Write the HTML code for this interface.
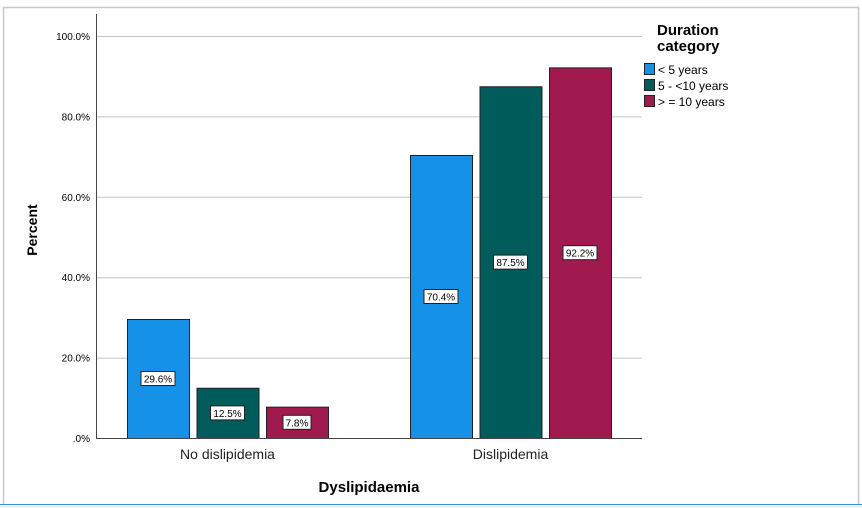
<!DOCTYPE html>
<html><head><meta charset="utf-8"><style>
html,body{margin:0;padding:0;background:#fff;}
svg{display:block;font-family:"Liberation Sans",Arial,sans-serif;}
</style></head><body>
<svg id="chart" width="862" height="508">
<rect x="0" y="0" width="862" height="508" fill="#fff"/>
<rect x="3.5" y="7.5" width="855" height="498" fill="none" stroke="#c8c8c8" stroke-width="1.5"/>
<rect x="0" y="505" width="862" height="3" fill="#eef0f2"/>
<line x1="0" y1="504.5" x2="862" y2="504.5" stroke="#3a8ee6" stroke-width="1"/>
<g id="grid"></g>
<g id="bars"></g>
<line x1="96.5" y1="14" x2="96.5" y2="438" stroke="#444"/>
<line x1="96" y1="438.5" x2="642" y2="438.5" stroke="#444"/>
<g id="labels"></g>
<text x="37" y="230" font-size="14" font-weight="bold" text-anchor="middle" transform="rotate(-90 37 230)">Percent</text>
<text x="369" y="492" font-size="15" font-weight="bold" text-anchor="middle">Dyslipidaemia</text>
<g>
<text x="657" y="35" font-size="15" font-weight="bold">Duration</text>
<text x="657" y="51" font-size="15" font-weight="bold">category</text>
<g id="legend"></g>
</g>
</svg>
<script>
const categories = ["No dislipidemia", "Dislipidemia"];
const seriesNames = ["< 5 years", "5 - <10 years", "> = 10 years"];
const seriesColors = ["#1591e8", "#005b5b", "#a01a50"];
const series0 = [29.6, 70.4];
const series1 = [12.5, 87.5];
const series2 = [7.8, 92.2];
const yTicks = [0, 20, 40, 60, 80, 100];
const yTickLabels = [".0%", "20.0%", "40.0%", "60.0%", "80.0%", "100.0%"];
const allSeries = [series0, series1, series2];
const NS = "http://www.w3.org/2000/svg";
function y(v){ return 438 - v * 4.02; }
const groupStart = [127, 410], barW = 62, barStep = 69.5;
function x(ci, si){ return groupStart[ci] + si * barStep; }
function mk(tag, attrs, parent, text){
  const e = document.createElementNS(NS, tag);
  for (const k in attrs) e.setAttribute(k, attrs[k]);
  if (text !== undefined) e.textContent = text;
  parent.appendChild(e); return e;
}
const grid = document.getElementById("grid"), bars = document.getElementById("bars"), labels = document.getElementById("labels"), legend = document.getElementById("legend");
yTicks.forEach((t, i) => {
  if (t > 0) {
    const l = mk("line", {x1: 96, x2: 642, y1: y(t) + 0.5, y2: y(t) + 0.5, stroke: "#c4c4c4"}, grid);
    
    
  }
  const tx = mk("text", {x: 90, y: y(t) + 4, "font-size": 10, "text-anchor": "end"}, labels, yTickLabels[i]);
  
  
});
categories.forEach((c, ci) => {
  const ct = mk("text", {x: x(ci, 1) + barW / 2, y: 459, "font-size": 14, "text-anchor": "middle", fill: "#222"}, labels, c);
  
  
  allSeries.forEach((s, si) => {
    const v = s[ci];
    const r = mk("rect", {x: x(ci, si) + 0.5, y: y(v) + 0.5, width: barW, height: 438 - y(v), fill: seriesColors[si], stroke: "#222", "stroke-width": 1}, bars);
    
    
    const cx = x(ci, si) + barW / 2, cy = y(v / 2);
    const lbl = v.toFixed(1) + "%";
    const w = lbl.length * 6 + 4;
    const b = mk("rect", {x: cx - w / 2, y: cy - 7, width: w, height: 14, fill: "#fff", stroke: "#222", "stroke-width": 1}, bars);
    
    
    const t = mk("text", {x: cx, y: cy + 4, "font-size": 10, "text-anchor": "middle"}, bars, lbl);
    
    
  });
});
seriesNames.forEach((n, i) => {
  const yy = 63 + i * 16;
  const r = mk("rect", {x: 644.5, y: yy + 0.5, width: 10, height: 11, fill: seriesColors[i], stroke: "#222"}, legend);
  
  
  const t = mk("text", {x: 658, y: yy + 11, "font-size": 12}, legend, n);
  
  
});
</script>
</body></html>
